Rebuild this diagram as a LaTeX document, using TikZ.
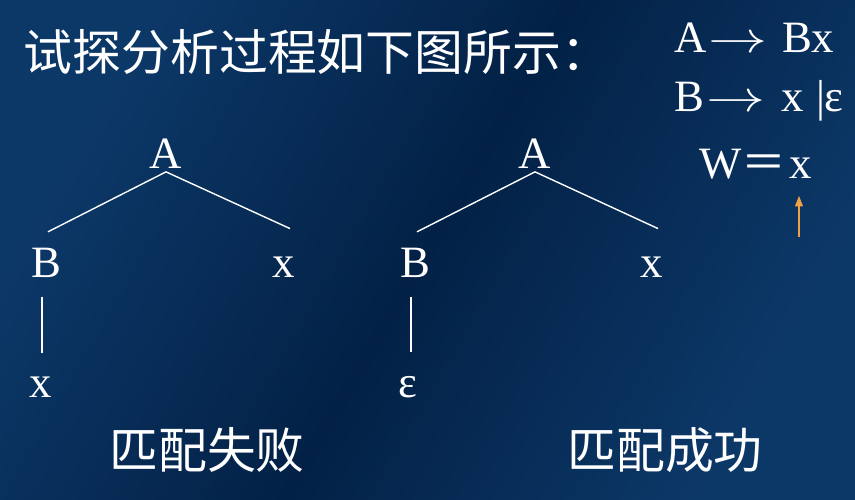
\documentclass[tikz,border=0pt]{standalone}
\usepackage{fontspec}
\usepackage{graphicx}
\setmainfont{Liberation Serif}
\newfontfamily\cjk{Noto Sans CJK SC}
\usetikzlibrary{arrows.meta}
\definecolor{bgout}{RGB}{12,56,104}
\definecolor{bgin}{RGB}{3,33,70}
\definecolor{ptrorange}{RGB}{240,160,70}
\newcommand{\derives}{\kern1pt\scalebox{1.35}[1]{$\rightarrow$}}

\begin{document}
\begin{tikzpicture}[
    x=0.02cm, y=-0.02cm,
    sym/.style={text=white, inner sep=2pt, font=\fontsize{25.5}{30}\selectfont},
    han/.style={text=white, inner sep=2pt, font=\cjk\fontsize{27.8}{32}\selectfont},
    edge/.style={white, line width=0.8pt},
    pointer/.style={ptrorange, line width=0.7pt, -{Triangle[width=4.5pt,length=6pt]}}
]

% Background
\useasboundingbox (0,0) rectangle (855,500);
\shade[top color=bgout, bottom color=bgout, middle color=bgin, shading angle=60] (0,0) rectangle (855,500);

% Title
\node[han, anchor=base west] (title) at (20,71) {试探分析过程如下图所示：};

% Grammar and input
\node[sym, anchor=base west] (rule1) at (671,53) {A\derives\hspace{8pt}Bx};
\node[sym, anchor=base west] (rule2) at (671,112) {B\derives\hspace{9pt}x\hspace{7pt}|ε};
\node[sym, anchor=base east] (weq) at (790,178) {W{\cjk ＝}};
\node[sym, anchor=base] (wx) at (801,178) {x};
\coordinate (ptr) at (799,237);
\draw[pointer] (ptr) -- ([shift={(-2,14)}]wx.south);

% Tree 1: match fails
\node[sym, anchor=base] (a1) at (166,168) {A};
\node[sym, anchor=base] (b1) at (46,277) {B};
\node[sym, anchor=base] (x1) at (284,277) {x};
\node[sym, anchor=base] (y1) at (41,397) {x};
\draw[edge] (a1.south) -- ([shift={(2,-12)}]b1.north);
\draw[edge] (a1.south) -- ([shift={(6,-24)}]x1.north);
\draw[edge] ([shift={(-4,16)}]b1.south) -- ([shift={(1,-20)}]y1.north);

% Tree 2: match succeeds
\node[sym, anchor=base] (a2) at (535,168) {A};
\node[sym, anchor=base] (b2) at (415,277) {B};
\node[sym, anchor=base] (x2) at (652,277) {x};
\node[sym, anchor=base] (e2) at (408,397) {ε};
\draw[edge] (a2.south) -- ([shift={(2,-12)}]b2.north);
\draw[edge] (a2.south) -- ([shift={(6,-24)}]x2.north);
\draw[edge] ([shift={(-4,16)}]b2.south) -- ([shift={(3,-20)}]e2.north);

% Results
\node[han, anchor=base] (fail) at (207,468) {匹配失败};
\node[han, anchor=base] (ok) at (665,468) {匹配成功};

\end{tikzpicture}
\end{document}
